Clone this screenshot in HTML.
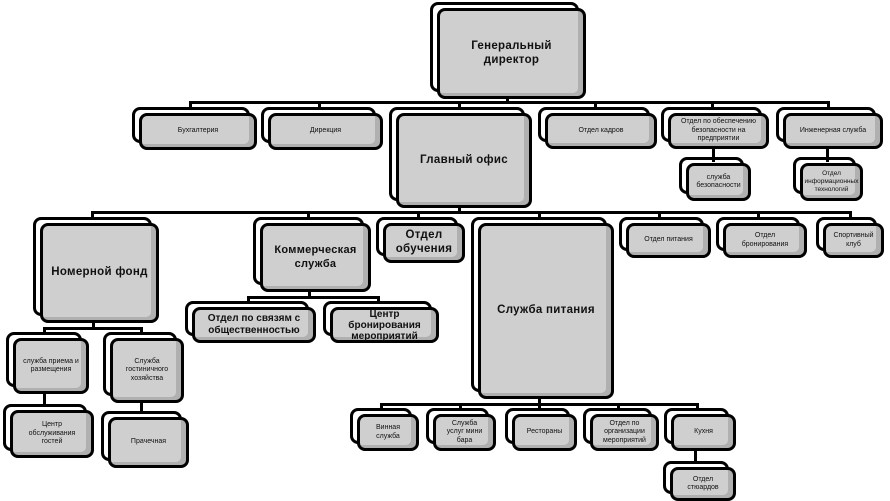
<!DOCTYPE html>
<html style="background:#fff"><head><meta charset="utf-8">
<style>
html,body{margin:0;padding:0;}
body{width:890px;height:501px;position:relative;overflow:hidden;font-family:"Liberation Sans","DejaVu Sans",sans-serif;}
.n{position:absolute;box-sizing:border-box;background:#cfcfcf;border:3px solid #000;border-radius:8px;
 box-shadow:inset -5px -3px 0 #b0b0b0;display:flex;align-items:center;justify-content:center;text-align:center;
 font-size:7px;line-height:1.2;color:#111;padding:1px 7px;}
.n::before{content:"";position:absolute;left:-10px;top:-9px;right:4px;bottom:4px;border:3px solid #000;border-radius:8px;background:#fff;z-index:-1;}
.b{font-weight:bold;font-size:11.5px;letter-spacing:0.3px;padding:1px 3px;}
.m{font-weight:bold;font-size:10px;padding:1px 3px;}
.h{position:absolute;background:#000;height:3px;}
.v{position:absolute;background:#000;width:3px;}
</style></head><body>

<div class="v" style="left:506px;top:96px;height:8px"></div>
<div class="h" style="left:189px;top:101px;width:641px"></div>
<div class="v" style="left:189px;top:101px;height:8px"></div>
<div class="v" style="left:318px;top:101px;height:8px"></div>
<div class="v" style="left:458px;top:101px;height:8px"></div>
<div class="v" style="left:594px;top:101px;height:8px"></div>
<div class="v" style="left:711px;top:101px;height:8px"></div>
<div class="v" style="left:827px;top:101px;height:8px"></div>
<div class="v" style="left:712px;top:146px;height:16px"></div>
<div class="v" style="left:826px;top:146px;height:16px"></div>

<div class="v" style="left:458px;top:205px;height:8px"></div>
<div class="h" style="left:91px;top:211px;width:761px"></div>
<div class="v" style="left:91px;top:211px;height:8px"></div>
<div class="v" style="left:307px;top:211px;height:8px"></div>
<div class="v" style="left:417px;top:211px;height:8px"></div>
<div class="v" style="left:538px;top:211px;height:8px"></div>
<div class="v" style="left:658px;top:211px;height:8px"></div>
<div class="v" style="left:757px;top:211px;height:8px"></div>
<div class="v" style="left:849px;top:211px;height:8px"></div>

<div class="v" style="left:92px;top:320px;height:9px"></div>
<div class="h" style="left:43px;top:327px;width:100px"></div>
<div class="v" style="left:43px;top:327px;height:7px"></div>
<div class="v" style="left:140px;top:327px;height:7px"></div>
<div class="v" style="left:43px;top:392px;height:14px"></div>
<div class="v" style="left:140px;top:400px;height:13px"></div>

<div class="v" style="left:308px;top:289px;height:9px"></div>
<div class="h" style="left:247px;top:296px;width:133px"></div>
<div class="v" style="left:247px;top:296px;height:7px"></div>
<div class="v" style="left:377px;top:296px;height:7px"></div>

<div class="v" style="left:538px;top:396px;height:9px"></div>
<div class="h" style="left:380px;top:403px;width:319px"></div>
<div class="v" style="left:380px;top:403px;height:7px"></div>
<div class="v" style="left:459px;top:403px;height:7px"></div>
<div class="v" style="left:538px;top:403px;height:7px"></div>
<div class="v" style="left:617px;top:403px;height:7px"></div>
<div class="v" style="left:696px;top:403px;height:7px"></div>
<div class="v" style="left:694px;top:448px;height:14px"></div>

<div class="n b" style="left:437px;top:8px;width:149px;height:91px">Генеральный<br>директор</div>

<div class="n" style="left:139px;top:113px;width:118px;height:37px">Бухгалтерия</div>
<div class="n" style="left:268px;top:113px;width:115px;height:37px">Дирекция</div>
<div class="n b" style="left:396px;top:113px;width:136px;height:95px">Главный офис</div>
<div class="n" style="left:545px;top:113px;width:112px;height:36px">Отдел кадров</div>
<div class="n" style="left:668px;top:113px;width:101px;height:36px">Отдел по обеспечению безопасности на предприятии</div>
<div class="n" style="left:783px;top:113px;width:100px;height:36px">Инженерная служба</div>
<div class="n" style="left:686px;top:163px;width:65px;height:38px">служба безопасности</div>
<div class="n" style="left:800px;top:163px;width:63px;height:38px;font-size:6.5px;padding:1px 3px">Отдел информационных технологий</div>

<div class="n b" style="left:40px;top:223px;width:119px;height:100px">Номерной фонд</div>
<div class="n b" style="left:260px;top:223px;width:111px;height:69px;font-size:11px">Коммерческая<br>служба</div>
<div class="n b" style="left:383px;top:223px;width:82px;height:40px">Отдел<br>обучения</div>
<div class="n b" style="left:478px;top:223px;width:136px;height:176px">Служба питания</div>
<div class="n" style="left:626px;top:223px;width:85px;height:35px">Отдел питания</div>
<div class="n" style="left:723px;top:223px;width:84px;height:35px">Отдел бронирования</div>
<div class="n" style="left:823px;top:223px;width:61px;height:35px">Спортивный клуб</div>

<div class="n" style="left:13px;top:338px;width:76px;height:56px">служба приема и размещения</div>
<div class="n" style="left:110px;top:338px;width:74px;height:65px">Служба гостиничного хозяйства</div>
<div class="n" style="left:10px;top:410px;width:84px;height:48px">Центр обслуживания гостей</div>
<div class="n" style="left:108px;top:417px;width:81px;height:51px">Прачечная</div>

<div class="n m" style="left:192px;top:307px;width:124px;height:36px">Отдел по связям с общественностью</div>
<div class="n m" style="left:330px;top:307px;width:109px;height:36px;line-height:1.1">Центр бронирования мероприятий</div>

<div class="n" style="left:357px;top:414px;width:62px;height:37px">Винная служба</div>
<div class="n" style="left:433px;top:414px;width:63px;height:37px">Служба услуг мини бара</div>
<div class="n" style="left:512px;top:414px;width:65px;height:37px">Рестораны</div>
<div class="n" style="left:590px;top:414px;width:69px;height:37px;padding:1px 3px">Отдел по организации мероприятий</div>
<div class="n" style="left:671px;top:414px;width:65px;height:37px">Кухня</div>
<div class="n" style="left:670px;top:467px;width:66px;height:34px">Отдел стюардов</div>

</body></html>
